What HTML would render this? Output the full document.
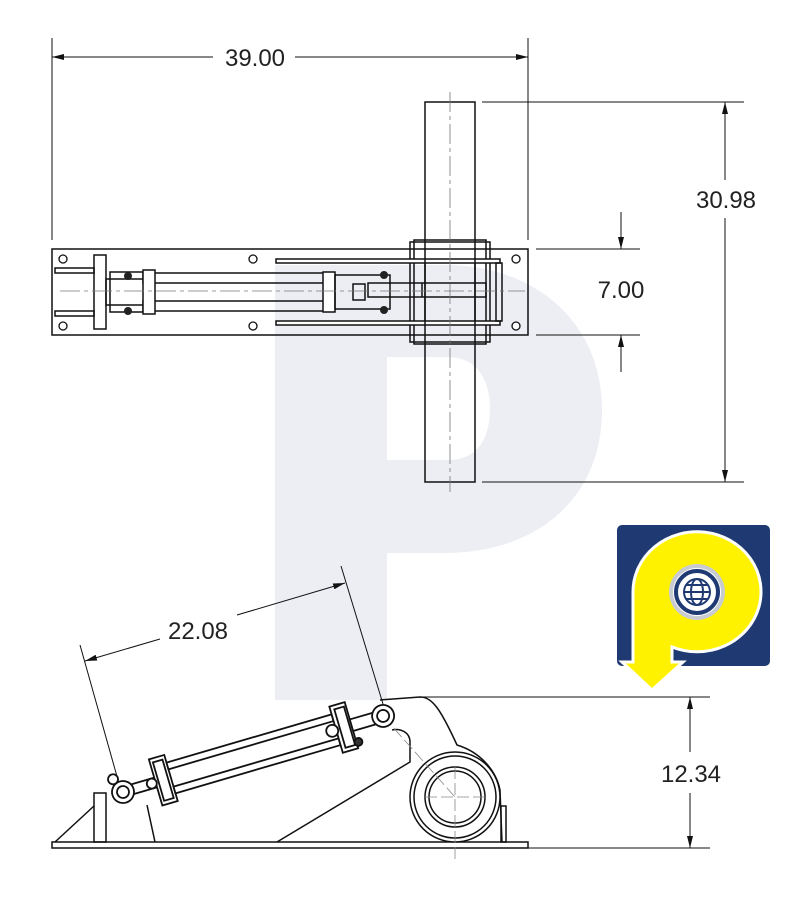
<!DOCTYPE html>
<html><head><meta charset="utf-8"><style>html,body{margin:0;padding:0;background:#fff}svg{display:block}text{font-family:"Liberation Sans",sans-serif;fill:#222}</style></head><body>
<svg width="800" height="915" viewBox="0 0 800 915" xmlns="http://www.w3.org/2000/svg">
<defs>
<marker id="a" viewBox="0 0 12 6" refX="12" refY="3" markerWidth="12" markerHeight="6" orient="auto-start-reverse" markerUnits="userSpaceOnUse"><path d="M0,0L12,3L0,6Z" fill="#111"/></marker>
</defs>
<path fill-rule="evenodd" fill="#eceef4" d="M275,265 H445 C535,265 602,322 602,410 C602,500 535,553 445,553 H387 V700 H275 Z M387,357 H448 C478,357 490,382 490,408 C490,438 478,460 448,460 H387 Z"/>

<g stroke="#111" fill="none" stroke-width="1">
<line x1="52" y1="38" x2="52" y2="240"/><line x1="528" y1="38" x2="528" y2="240"/>
<line x1="52" y1="57" x2="213" y2="57" marker-start="url(#a)"/>
<line x1="295" y1="57" x2="528" y2="57" marker-end="url(#a)"/>
<line x1="482" y1="102" x2="744" y2="102"/><line x1="482" y1="482" x2="744" y2="482"/>
<line x1="725" y1="102" x2="725" y2="180" marker-start="url(#a)"/>
<line x1="725" y1="218" x2="725" y2="482" marker-end="url(#a)"/>
<line x1="536" y1="249" x2="640" y2="249"/><line x1="536" y1="335" x2="640" y2="335"/>
<line x1="621" y1="212" x2="621" y2="249" marker-end="url(#a)"/>
<line x1="621" y1="372" x2="621" y2="335" marker-end="url(#a)"/>
</g>
<text x="255" y="66" font-size="24" text-anchor="middle">39.00</text>
<text x="726" y="208" font-size="24" text-anchor="middle">30.98</text>
<text x="621" y="298" font-size="24" text-anchor="middle">7.00</text>

<g stroke="#111" fill="none" stroke-width="1.5">
<rect x="425" y="102" width="50" height="380"/>
<rect x="52" y="249" width="476" height="86"/>
<rect x="410" y="242" width="80" height="100"/>
<rect x="414" y="240" width="72" height="104"/>
<rect x="276" y="259" width="224" height="4" fill="#fff"/>
<rect x="276" y="321" width="224" height="4" fill="#fff"/>
<rect x="496" y="263" width="6" height="58"/>
<line x1="425" y1="259" x2="425" y2="325"/><line x1="475" y1="259" x2="475" y2="325"/>
<rect x="94" y="255" width="12" height="74" fill="#fff"/>
<rect x="55" y="268" width="39" height="5"/><rect x="55" y="311" width="39" height="5"/>
<rect x="106" y="279" width="40" height="26"/>
<rect x="110" y="272" width="36" height="40"/>
<rect x="143" y="273" width="185" height="10"/>
<rect x="143" y="301" width="185" height="10"/>
<rect x="143" y="270" width="12" height="44" fill="#fff"/>
<rect x="323" y="272" width="12" height="40" fill="#fff"/>
<rect x="335" y="275" width="55" height="34"/>
<rect x="353" y="284" width="12" height="16"/>
<rect x="368" y="283" width="118" height="14"/>
<line x1="422" y1="283" x2="422" y2="297"/>
</g>
<g fill="#222"><circle cx="128" cy="276" r="4"/><circle cx="128" cy="311" r="4"/><circle cx="384" cy="275" r="4"/><circle cx="384" cy="310" r="4"/></g>
<g stroke="#111" fill="#fff" stroke-width="1.3">
<circle cx="63" cy="259" r="4"/><circle cx="63" cy="326" r="4"/><circle cx="253" cy="259" r="4"/><circle cx="253" cy="326" r="4"/><circle cx="516" cy="259" r="4"/><circle cx="516" cy="326" r="4"/>
</g>
<g stroke="#777" stroke-width="0.8" stroke-dasharray="20,4,4,4" fill="none">
<line x1="450" y1="92" x2="450" y2="492"/><line x1="60" y1="291" x2="525" y2="291"/>
</g>

<g stroke="#111" fill="none" stroke-width="1">
<line x1="80" y1="645" x2="118" y2="780"/>
<line x1="341" y1="566" x2="383" y2="704"/>
<line x1="85" y1="661" x2="160" y2="639" marker-start="url(#a)"/>
<line x1="237" y1="615" x2="345" y2="583" marker-end="url(#a)"/>
</g>
<text x="198" y="639" font-size="24" text-anchor="middle">22.08</text>

<g stroke="#111" fill="none" stroke-width="1">
<line x1="420" y1="697" x2="710" y2="697"/>
<line x1="510" y1="848" x2="710" y2="848"/>
<line x1="690" y1="697" x2="690" y2="752" marker-start="url(#a)"/>
<line x1="690" y1="793" x2="690" y2="848" marker-end="url(#a)"/>
</g>
<text x="691" y="782" font-size="24" text-anchor="middle">12.34</text>

<g stroke="#111" fill="none" stroke-width="1.5">
<rect x="52" y="842" width="476" height="6" fill="#fff"/>
<path d="M55,842 L94,806"/>
<rect x="94" y="793" width="12" height="49"/>
<rect x="501" y="806" width="5" height="36"/>
<path d="M277,842 L410,762 L410,742 C410,732 400,728 392,730"/>
<path d="M380,700 L420,697 C432,697 440,708 457,745 C480,752 496,770 500,790 L502,842"/>
<line x1="147" y1="805" x2="155" y2="842"/>
<circle cx="455" cy="797" r="45" fill="#fff"/>
<circle cx="455" cy="797" r="41"/>
<circle cx="455" cy="797" r="30"/>
<circle cx="455" cy="797" r="26"/>
</g>
<g stroke="#888" stroke-width="0.8" stroke-dasharray="12,4" fill="none">
<line x1="425" y1="797" x2="485" y2="797"/><line x1="455" y1="767" x2="455" y2="860"/>
<line x1="383" y1="716" x2="455" y2="797"/>
</g>
<g transform="translate(123,792) rotate(-16.3)" stroke="#111" fill="#fff" stroke-width="1.8">
<rect x="10" y="-5" width="25" height="10"/>
<circle cx="0" cy="0" r="11"/><circle cx="0" cy="0" r="6"/>
<circle cx="-6" cy="-15" r="5"/>
<rect x="34" y="-24" width="16" height="48"/>
<rect x="37" y="-20" width="10" height="40"/>
<circle cx="30" cy="0" r="5"/>
<rect x="50" y="-16" width="172" height="7"/>
<rect x="50" y="9" width="172" height="7"/>
<rect x="222" y="-24" width="16" height="48"/>
<rect x="226" y="-20" width="10" height="40"/>
<circle cx="218" cy="0" r="6"/>
<rect x="238" y="-6" width="24" height="12"/>
<circle cx="271" cy="0" r="11"/><circle cx="271" cy="0" r="6"/>
<circle cx="240" cy="18" r="4" fill="#333"/>
</g>

<rect x="617" y="525" width="153" height="141" rx="5" fill="#1f3a72"/>
<g stroke="#fff" stroke-width="3">
<path d="M633,662 V592 A64,60 0 1 1 672,647 V662 H683 L652,690 L622,662 Z" fill="#fff200"/>
</g>
<circle cx="697" cy="592" r="28" fill="#c8ccd2"/>
<circle cx="697" cy="592" r="24" fill="#fff"/>
<circle cx="697" cy="592" r="21" fill="none" stroke="#1f3a72" stroke-width="4"/>
<g fill="none" stroke="#1f3a72" stroke-width="2">
<circle cx="697" cy="592" r="13"/>
<ellipse cx="697" cy="592" rx="6" ry="13"/>
<line x1="684" y1="592" x2="710" y2="592"/>
<line x1="686" y1="585" x2="708" y2="585"/>
<line x1="686" y1="599" x2="708" y2="599"/>
</g>
</svg>
</body></html>
